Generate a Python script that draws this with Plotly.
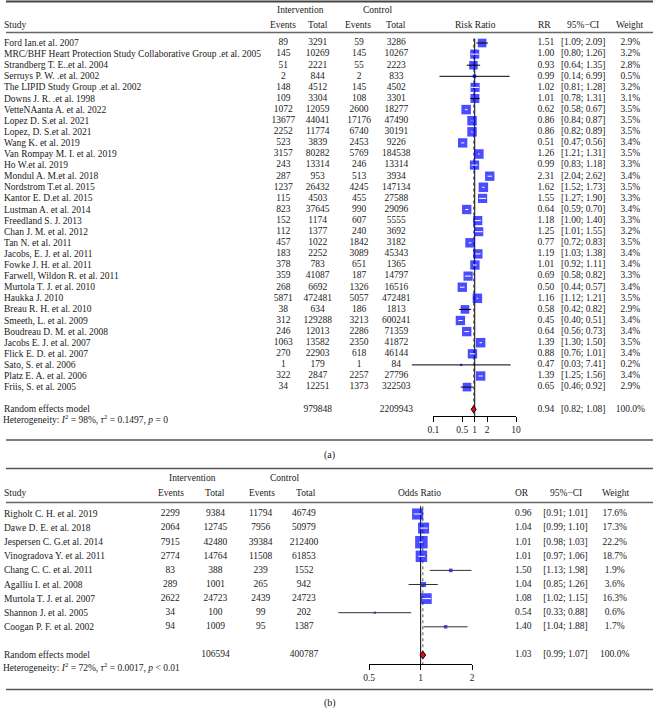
import math
import plotly.graph_objects as go

# ---------------- data: panel (a) ----------------
a_studies = [
    "Ford Ian.et al. 2007",
    "MRC/BHF Heart Protection Study Collaborative Group .et al. 2005",
    "Strandberg T. E..et al. 2004",
    "Serruys P. W. .et al. 2002",
    "The LIPID Study Group .et al. 2002",
    "Downs J. R. .et al. 1998",
    "VetteNAanta A. et al. 2022",
    "Lopez D. S.et al. 2021",
    "Lopez, D. S.et al. 2021",
    "Wang K. et al. 2019",
    "Van Rompay M. I. et al. 2019",
    "Ho W.et al. 2019",
    "Mondul A. M.et al. 2018",
    "Nordstrom T.et al. 2015",
    "Kantor E. D.et al. 2015",
    "Lustman A. et al. 2014",
    "Freedland S. J. 2013",
    "Chan J. M. et al. 2012",
    "Tan N. et al. 2011",
    "Jacobs, E. J. et al. 2011",
    "Fowke J. H. et al. 2011",
    "Farwell, Wildon R. et al. 2011",
    "Murtola T. J. et al. 2010",
    "Haukka J. 2010",
    "Breau R. H. et al. 2010",
    "Smeeth, L. et al. 2009",
    "Boudreau D. M. et al. 2008",
    "Jacobs E. J. et al. 2007",
    "Flick E. D. et al. 2007",
    "Sato, S. et al. 2006",
    "Platz E. A. et al. 2006",
    "Friis, S. et al. 2005",
]
a_ev_int = [89, 145, 51, 2, 148, 109, 1072, 13677, 2252, 523, 3157, 243, 287, 1237, 115, 823,
            152, 112, 457, 183, 378, 359, 268, 5871, 38, 312, 246, 1063, 270, 1, 322, 34]
a_tot_int = [3291, 10269, 2221, 844, 4512, 3304, 12059, 44041, 11774, 3839, 80282, 13314, 953,
             26432, 4503, 37645, 1174, 1377, 1022, 2252, 783, 41087, 6692, 472481, 634, 129288,
             12013, 13582, 22903, 179, 2847, 12251]
a_ev_ctl = [59, 145, 55, 2, 145, 108, 2600, 17176, 6740, 2453, 5769, 246, 513, 4245, 455, 990,
            607, 240, 1842, 3089, 651, 187, 1326, 5057, 186, 3213, 2286, 2350, 618, 1, 2257, 1373]
a_tot_ctl = [3286, 10267, 2223, 833, 4502, 3301, 18277, 47490, 30191, 9226, 184538, 13314, 3934,
             147134, 27588, 29096, 5555, 3692, 3182, 45343, 1365, 14797, 16516, 472481, 1813,
             600241, 71359, 41872, 46144, 84, 27796, 322503]
a_rr = [1.51, 1.00, 0.93, 0.99, 1.02, 1.01, 0.62, 0.86, 0.86, 0.51, 1.26, 0.99, 2.31, 1.62, 1.55,
        0.64, 1.18, 1.25, 0.77, 1.19, 1.01, 0.69, 0.50, 1.16, 0.58, 0.45, 0.64, 1.39, 0.88, 0.47,
        1.39, 0.65]
a_lo = [1.09, 0.80, 0.64, 0.14, 0.81, 0.78, 0.58, 0.84, 0.82, 0.47, 1.21, 0.83, 2.04, 1.52, 1.27,
        0.59, 1.00, 1.01, 0.72, 1.03, 0.92, 0.58, 0.44, 1.12, 0.42, 0.40, 0.56, 1.30, 0.76, 0.03,
        1.25, 0.46]
a_hi = [2.09, 1.26, 1.35, 6.99, 1.28, 1.31, 0.67, 0.87, 0.89, 0.56, 1.31, 1.18, 2.62, 1.73, 1.90,
        0.70, 1.40, 1.55, 0.83, 1.38, 1.11, 0.82, 0.57, 1.21, 0.82, 0.51, 0.73, 1.50, 1.01, 7.41,
        1.56, 0.92]
a_w = [2.9, 3.2, 2.8, 0.5, 3.2, 3.1, 3.5, 3.5, 3.5, 3.4, 3.5, 3.3, 3.4, 3.5, 3.3, 3.4, 3.3, 3.2,
       3.5, 3.4, 3.4, 3.3, 3.4, 3.5, 2.9, 3.4, 3.4, 3.5, 3.4, 0.2, 3.4, 2.9]
a_pool = dict(tot_int=979848, tot_ctl=2209943, est=0.94, lo=0.82, hi=1.08, w=100.0)
a_het = "Heterogeneity: <i>I</i><sup>2</sup> = 98%, <i>τ</i><sup>2</sup> = 0.1497, <i>p</i> = 0"
a_ticks = [0.1, 0.5, 1, 2, 10]
a_ticklabels = ["0.1", "0.5", "1", "2", "10"]

# ---------------- data: panel (b) ----------------
b_studies = [
    "Righolt C. H. et al. 2019",
    "Dawe D. E. et al. 2018",
    "Jespersen C. G.et al. 2014",
    "Vinogradova Y. et al. 2011",
    "Chang C. C. et al. 2011",
    "Agalliu I. et al. 2008",
    "Murtola T. J. et al. 2007",
    "Shannon J. et al. 2005",
    "Coogan P. F. et al. 2002",
]
b_ev_int = [2299, 2064, 7915, 2774, 83, 289, 2622, 34, 94]
b_tot_int = [9384, 12745, 42480, 14764, 388, 1001, 24723, 100, 1009]
b_ev_ctl = [11794, 7956, 39384, 11508, 239, 265, 2439, 99, 95]
b_tot_ctl = [46749, 50979, 212400, 61853, 1552, 942, 24723, 202, 1387]
b_or = [0.96, 1.04, 1.01, 1.01, 1.50, 1.04, 1.08, 0.54, 1.40]
b_lo = [0.91, 0.99, 0.98, 0.97, 1.13, 0.85, 1.02, 0.33, 1.04]
b_hi = [1.01, 1.10, 1.03, 1.06, 1.98, 1.26, 1.15, 0.88, 1.88]
b_w = [17.6, 17.3, 22.2, 18.7, 1.9, 3.6, 16.3, 0.6, 1.7]
b_pool = dict(tot_int=106594, tot_ctl=400787, est=1.03, lo=0.99, hi=1.07, w=100.0)
b_het = "Heterogeneity: <i>I</i><sup>2</sup> = 72%, <i>τ</i><sup>2</sup> = 0.0017, <i>p</i> &lt; 0.01"
b_ticks = [0.5, 1, 2]
b_ticklabels = ["0.5", "1", "2"]

# ---------------- layout constants (pixels) ----------------
W, H = 658, 710
FONT = "Liberation Serif"
FS = 9.5
TXT = "#1a1a1a"
TX0 = 12  # text axis offset

A_ROW0, A_STEP = 43.0, 11.1
B_ROW0, B_STEP = 514.0, 14.1
A_ONE_PX, A_DEC_PX = 476.7, 42.0
B_ONE_PX, B_DEC_PX = 421.7, 173.9
A_AXIS_PX, B_AXIS_PX = 416.0, 664.0
LEFT_PX = -3

A_COLS = [282, 317, 359, 397, 549, 587, 635]
B_COLS = [167, 213, 259, 303, 526, 569, 619]


def px2paper_y(p):
    return 1 - p / H


def px2paper_x(p):
    return p / W


fig = go.Figure()


def add_text(xpix, rows, texts, yax, pos="middle center", size=FS):
    fig.add_trace(go.Scatter(
        x=[xpix - TX0] * len(rows), y=rows, text=texts, mode="text",
        textposition=pos, textfont=dict(family=FONT, size=size, color=TXT),
        xaxis="x3", yaxis=yax, showlegend=False, hoverinfo="skip", cliponaxis=False))


def panel(studies, ev_i, tot_i, ev_c, tot_c, est, lo, hi, w, pool, cols, xax, yax,
          dec_px, side_ref, w_ref, ci_color, top_row, axis_row, diamond_h, dot_color):
    n = len(studies)
    rows = list(range(n))
    re_row = n + 1
    # study labels (left aligned, placed on the row axis)
    for r, name in zip(rows + [re_row], studies + ["Random effects model"]):
        fig.add_annotation(text=name, x=px2paper_x(LEFT_PX), y=r, xref="paper", yref=yax,
                           xanchor="left", yanchor="middle", showarrow=False, borderpad=0,
                           font=dict(family=FONT, size=FS, color=TXT))
    # numeric columns
    add_text(cols[0], rows, [str(v) for v in ev_i], yax)
    add_text(cols[1], rows + [re_row], [str(v) for v in tot_i] + [str(pool["tot_int"])], yax)
    add_text(cols[2], rows, [str(v) for v in ev_c], yax)
    add_text(cols[3], rows + [re_row], [str(v) for v in tot_c] + [str(pool["tot_ctl"])], yax)
    add_text(cols[4], rows + [re_row], [f"{v:.2f}" for v in est] + [f"{pool['est']:.2f}"], yax)
    add_text(cols[5], rows + [re_row],
             [f"[{a:.2f}; {b:.2f}]" for a, b in zip(lo, hi)] + [f"[{pool['lo']:.2f}; {pool['hi']:.2f}]"], yax)
    add_text(cols[6], rows + [re_row], [f"{v:.1f}%" for v in w] + [f"{pool['w']:.1f}%"], yax)

    # dotted line at pooled estimate and solid reference line at 1
    fig.add_trace(go.Scatter(x=[pool["est"], pool["est"]], y=[top_row, axis_row], mode="lines",
                             line=dict(color=dot_color, width=1, dash="dot"), xaxis=xax, yaxis=yax,
                             showlegend=False, hoverinfo="skip"))
    fig.add_trace(go.Scatter(x=[1, 1], y=[top_row, axis_row], mode="lines",
                             line=dict(color="black", width=1), xaxis=xax, yaxis=yax,
                             showlegend=False, hoverinfo="skip"))

    sides = [max(2.2, side_ref * math.sqrt(v / w_ref)) for v in w]
    inside = [math.log10(b / a) * dec_px <= s for a, b, s in zip(lo, hi, sides)]

    def seg(mask):
        xs, ys = [], []
        for i in range(n):
            if mask[i]:
                xs += [lo[i], hi[i], None]
                ys += [i, i, None]
        return xs, ys

    # squares
    fig.add_trace(go.Scatter(x=est, y=rows, mode="markers",
                             marker=dict(symbol="square", size=sides, color="#0000ff",
                                         line=dict(width=0)),
                             xaxis=xax, yaxis=yax, showlegend=False, hoverinfo="skip"))
    xs, ys = seg([not m for m in inside])
    fig.add_trace(go.Scatter(x=xs, y=ys, mode="lines", line=dict(color=ci_color, width=1),
                             xaxis=xax, yaxis=yax, showlegend=False, hoverinfo="skip"))
    xs, ys = seg(inside)
    fig.add_trace(go.Scatter(x=xs, y=ys, mode="lines", line=dict(color="white", width=1),
                             xaxis=xax, yaxis=yax, showlegend=False, hoverinfo="skip"))
    # pooled diamond
    fig.add_trace(go.Scatter(
        x=[pool["lo"], pool["est"], pool["hi"], pool["est"], pool["lo"]],
        y=[re_row, re_row - diamond_h, re_row, re_row + diamond_h, re_row],
        mode="lines", fill="toself", fillcolor="#ff0000",
        line=dict(color="black", width=1), xaxis=xax, yaxis=yax,
        showlegend=False, hoverinfo="skip"))


panel(a_studies, a_ev_int, a_tot_int, a_ev_ctl, a_tot_ctl, a_rr, a_lo, a_hi, a_w, a_pool,
      A_COLS, "x", "y", A_DEC_PX, 9.5, 3.5, "black", -0.4, (A_AXIS_PX - A_ROW0) / A_STEP, 0.32,
      "#666666")
panel(b_studies, b_ev_int, b_tot_int, b_ev_ctl, b_tot_ctl, b_or, b_lo, b_hi, b_w, b_pool,
      B_COLS, "x2", "y2", B_DEC_PX, 12.5, 22.2, "#333333", -0.55, (B_AXIS_PX - B_ROW0) / B_STEP, 0.27,
      "#555555")

# dummy traces to create visible tick axes
fig.add_trace(go.Scatter(x=[1], y=[0], mode="markers", marker=dict(opacity=0),
                         xaxis="x4", yaxis="y", showlegend=False, hoverinfo="skip"))
fig.add_trace(go.Scatter(x=[1], y=[0], mode="markers", marker=dict(opacity=0),
                         xaxis="x5", yaxis="y2", showlegend=False, hoverinfo="skip"))

hidden = dict(visible=False, showgrid=False, zeroline=False, fixedrange=True)

a_l = A_ONE_PX + math.log10(a_ticks[0]) * A_DEC_PX
a_r = A_ONE_PX + math.log10(a_ticks[-1]) * A_DEC_PX
b_l = B_ONE_PX + math.log10(b_ticks[0]) * B_DEC_PX
b_r = B_ONE_PX + math.log10(b_ticks[-1]) * B_DEC_PX

tickaxis = dict(type="log", showgrid=False, zeroline=False, showline=True, linecolor="black",
                linewidth=1, ticks="outside", ticklen=5, tickwidth=1, tickcolor="black",
                tickfont=dict(family=FONT, size=FS, color=TXT), anchor="free", fixedrange=True)

fig.update_layout(
    width=W, height=H, autosize=False,
    margin=dict(l=0, r=0, t=0, b=0, pad=0),
    paper_bgcolor="white", plot_bgcolor="rgba(0,0,0,0)",
    xaxis=dict(type="log", domain=[0, 1],
               range=[-A_ONE_PX / A_DEC_PX, (W - A_ONE_PX) / A_DEC_PX], **hidden),
    xaxis2=dict(type="log", domain=[0, 1], anchor="y2",
                range=[-B_ONE_PX / B_DEC_PX, (W - B_ONE_PX) / B_DEC_PX], **hidden),
    xaxis3=dict(domain=[0, 1], range=[-TX0, W - TX0], anchor="y", **hidden),
    yaxis=dict(domain=[0, 1], range=[(H - A_ROW0) / A_STEP, -A_ROW0 / A_STEP], **hidden),
    yaxis2=dict(domain=[0, 1], range=[(H - B_ROW0) / B_STEP, -B_ROW0 / B_STEP], anchor="x2", **hidden),
    xaxis4=dict(domain=[a_l / W, a_r / W], range=[math.log10(a_ticks[0]), math.log10(a_ticks[-1])],
                tickvals=a_ticks, ticktext=a_ticklabels, position=px2paper_y(A_AXIS_PX), **tickaxis),
    xaxis5=dict(domain=[b_l / W, b_r / W], range=[math.log10(b_ticks[0]), math.log10(b_ticks[-1])],
                tickvals=b_ticks, ticktext=b_ticklabels, position=px2paper_y(B_AXIS_PX), **tickaxis),
)

# separator lines
for py, lw, col in [(1.5, 2, "#444444"), (32.5, 1.5, "#666666"), (440, 1.5, "#555555"),
                    (468.5, 1.5, "#555555"), (502.5, 1.5, "#666666"), (689.5, 1.5, "#555555")]:
    fig.add_shape(type="line", xref="paper", yref="paper", x0=0, x1=1,
                  y0=px2paper_y(py), y1=px2paper_y(py), line=dict(color=col, width=lw))

# headers and notes
def note(text, x, y, anchor="center", size=FS):
    fig.add_annotation(text=text, x=px2paper_x(x), y=px2paper_y(y), xref="paper", yref="paper",
                       xanchor=anchor, yanchor="middle", showarrow=False, borderpad=0,
                       font=dict(family=FONT, size=size, color=TXT))

note("Intervention", 300, 10)
note("Control", 378, 10)
note("Study", LEFT_PX, 25, "left")
for t, x in zip(["Events", "Total", "Events", "Total", "Risk Ratio", "RR", "95%−CI", "Weight"],
                [282, 317, 358, 397, 477, 548, 587, 635]):
    note(t, x, 25)
note(a_het, LEFT_PX - 1, 419, "left")
note("(a)", 329, 455, size=10)

note("Intervention", 190, 478)
note("Control", 283, 478)
note("Study", LEFT_PX, 493, "left")
for t, x in zip(["Events", "Total", "Events", "Total", "Odds Ratio", "OR", "95%−CI", "Weight"],
                [168, 213, 260, 305, 421, 525, 570, 620]):
    note(t, x, 493)
note(b_het, LEFT_PX - 1, 667, "left")
note("(b)", 329, 703, size=10)

fig.write_html("out.html", config={"displayModeBar": False},
               post_script="document.body.style.margin='0';")
